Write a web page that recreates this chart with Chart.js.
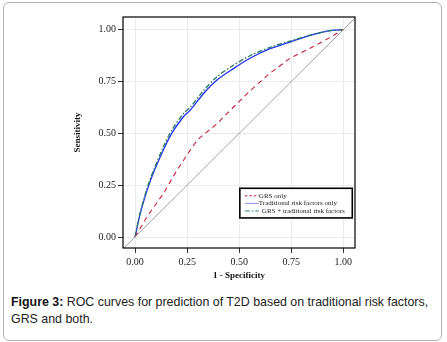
<!DOCTYPE html>
<html>
<head>
<meta charset="utf-8">
<script src="https://cdn.jsdelivr.net/npm/chart.js@4"></script>
<style>
  html, body { margin: 0; padding: 0; background: #fff; }
  #frame {
    position: absolute; left: 3px; top: 2px; width: 437px; height: 337px;
    border: 1px solid #b0b0b0; border-radius: 6px; box-sizing: content-box;
  }
  #wrap { position: absolute; left: 0; top: 0; width: 447px; height: 290px; }
  #caption {
    position: absolute; left: 11px; top: 294px; width: 430px;
    font-family: "Liberation Sans", Arial, sans-serif; font-size: 12.4px;
    line-height: 17px; color: #222;
  }
  #caption b { color: #111; }
</style>
</head>
<body>
<div id="frame"></div>
<div id="wrap"><canvas id="roc"></canvas></div>
<div id="caption"><b>Figure 3:</b> ROC curves for prediction of T2D based on traditional risk factors, GRS and both.</div>

<script>
// ROC points (1 - specificity, sensitivity)
const tradX = [0, 0.024, 0.056, 0.088, 0.136, 0.176, 0.232, 0.264, 0.328, 0.392, 0.472, 0.552, 0.648, 0.744, 0.84, 0.936, 1];
const tradY = [0, 0.11, 0.22, 0.31, 0.42, 0.50, 0.58, 0.611, 0.691, 0.756, 0.812, 0.862, 0.908, 0.94, 0.972, 0.995, 1];

const bothX = [0, 0.024, 0.056, 0.088, 0.136, 0.176, 0.232, 0.264, 0.328, 0.392, 0.472, 0.552, 0.648, 0.744, 0.84, 0.936, 1];
const bothY = [0, 0.115, 0.23, 0.32, 0.435, 0.515, 0.595, 0.625, 0.705, 0.772, 0.828, 0.874, 0.915, 0.945, 0.973, 0.995, 1];

const grsX = [0, 0.056, 0.136, 0.2, 0.264, 0.30, 0.392, 0.456, 0.552, 0.648, 0.744, 0.84, 0.936, 1];
const grsY = [0, 0.096, 0.21, 0.32, 0.418, 0.47, 0.545, 0.61, 0.705, 0.79, 0.862, 0.91, 0.962, 1];

const refX = [-0.1, 1.1];
const refY = [-0.1, 1.1];

const tickVals = [0, 0.25, 0.5, 0.75, 1];
const legendLabels = ['GRS only', 'Traditional risk factors only', 'GRS + traditional risk factors'];

function pts(xs, ys) {
    return xs.map((x, i) => ({ x: x, y: ys[i] }));
}

const serif = '"Liberation Serif", "Times New Roman", serif';

// black frame round the plot + legend box inside it
const boxPlugin = {
    id: 'box',
    afterDraw(chart) {
        const ctx = chart.ctx;
        const a = chart.chartArea;
        const xs = chart.scales.x, ys = chart.scales.y;
        ctx.save();
        ctx.strokeStyle = '#000';
        ctx.lineWidth = 1.2;
        ctx.strokeRect(a.left, a.top, a.right - a.left, a.bottom - a.top);

        // legend
        const lx = xs.getPixelForValue(0.503), rx = xs.getPixelForValue(1.043);
        const ty = ys.getPixelForValue(0.235), by = ys.getPixelForValue(0.092);
        ctx.fillStyle = '#fff';
        ctx.fillRect(lx, ty, rx - lx, by - ty);
        ctx.lineWidth = 1.6;
        ctx.strokeRect(lx, ty, rx - lx, by - ty);

        const styles = [
            { color: '#c8203a', dash: [2.5, 2], width: 1 },
            { color: '#8a96f5', dash: [], width: 1 },
            { color: '#2f7f8f', dash: [5, 2, 1.5, 2], width: 1 }
        ];
        ctx.font = '7px ' + serif;
        ctx.textBaseline = 'middle';
        legendLabels.forEach((lab, i) => {
            const y = ty + 7.5 + i * 7.6;
            const s = styles[i];
            ctx.beginPath();
            ctx.setLineDash(s.dash);
            ctx.strokeStyle = s.color;
            ctx.lineWidth = s.width;
            ctx.moveTo(lx + 5, y);
            ctx.lineTo(lx + 19, y);
            ctx.stroke();
            ctx.setLineDash([]);
            ctx.fillStyle = '#222';
            ctx.fillText(lab, lx + (i === 2 ? 22 : 19), y);
        });
        ctx.restore();
    }
};

new Chart(document.getElementById('roc'), {
    type: 'scatter',
    data: {
        datasets: [
            {
                label: 'Reference',
                data: pts(refX, refY),
                showLine: true,
                borderColor: '#a0a0a0',
                borderWidth: 1,
                pointRadius: 0
            },
            {
                label: legendLabels[0],
                data: pts(grsX, grsY),
                showLine: true,
                borderColor: '#c8203a',
                borderWidth: 1.1,
                borderDash: [5, 4],
                pointRadius: 0
            },
            {
                label: legendLabels[2],
                data: pts(bothX, bothY),
                showLine: true,
                borderColor: '#247a60',
                borderWidth: 1.3,
                borderDash: [5, 2, 1.5, 2],
                pointRadius: 0,
                tension: 0.3
            },
            {
                label: legendLabels[1],
                data: pts(tradX, tradY),
                showLine: true,
                borderColor: '#2030f0',
                borderWidth: 1.3,
                pointRadius: 0,
                tension: 0.3
            }
        ]
    },
    options: {
        responsive: true,
        maintainAspectRatio: false,
        animation: false,
        layout: { padding: { left: 0, right: 92, top: 17, bottom: 0 } },
        plugins: {
            legend: { display: false },
            tooltip: { enabled: false }
        },
        scales: {
            x: {
                type: 'linear',
                min: -0.058,
                max: 1.056,
                afterBuildTicks: s => { s.ticks = tickVals.map(v => ({ value: v })); },
                afterFit: s => { s.height = 42; },
                grid: { color: '#ebebeb', lineWidth: 1, tickLength: 5, tickColor: '#333' },
                border: { display: false },
                ticks: {
                    color: '#222',
                    font: { family: serif, size: 10 },
                    padding: 3,
                    maxRotation: 0,
                    callback: v => v.toFixed(2)
                },
                title: {
                    display: true,
                    text: '1 - Specificity',
                    color: '#111',
                    font: { family: serif, size: 9, weight: 'bold' },
                    padding: { top: 0, bottom: 9 }
                }
            },
            y: {
                type: 'linear',
                min: -0.053,
                max: 1.061,
                afterBuildTicks: s => { s.ticks = tickVals.map(v => ({ value: v })); },
                afterFit: s => { s.width = 123; },
                grid: { color: '#ebebeb', lineWidth: 1, tickLength: 5, tickColor: '#333' },
                border: { display: false },
                ticks: {
                    color: '#222',
                    font: { family: serif, size: 10 },
                    padding: 2,
                    callback: v => v.toFixed(2)
                },
                title: {
                    display: true,
                    text: 'Sensitivity',
                    color: '#111',
                    font: { family: serif, size: 9, weight: 'bold' },
                    padding: { top: 72, bottom: 0 }
                }
            }
        }
    },
    plugins: [boxPlugin]
});
</script>
</body>
</html>
